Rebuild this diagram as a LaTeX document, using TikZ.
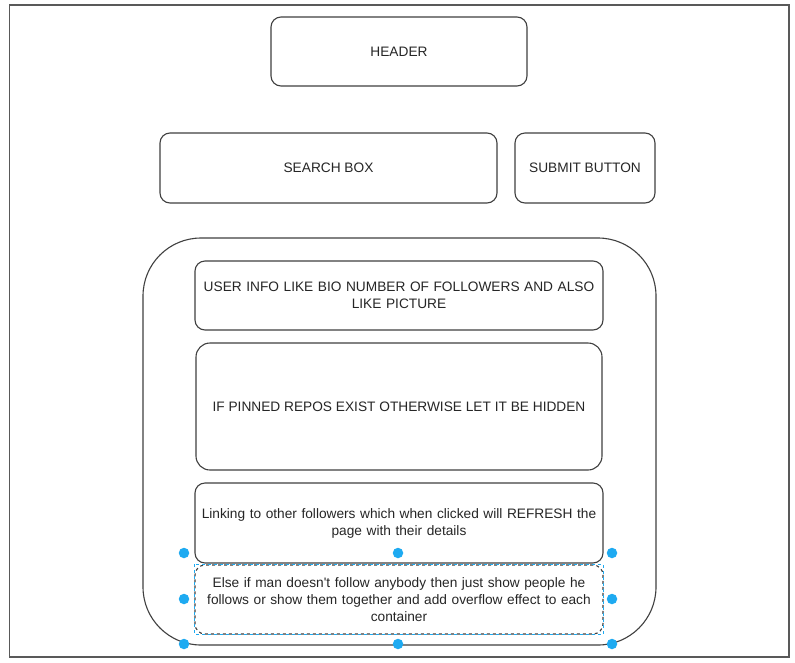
\documentclass[tikz,border=0pt]{standalone}
\usepackage{fontspec}
\setmainfont{Liberation Sans}
\definecolor{handleblue}{HTML}{1EAAF1}
\begin{document}
\begin{tikzpicture}[x=1pt,y=-1pt,
  box/.style={draw=black!75, line width=1.1pt, rounded corners=10pt, align=center, text=black!85, font=\fontsize{13.7}{17}\selectfont, inner sep=2pt},
  handle/.style={circle, fill=handleblue, draw=none, minimum size=10.5pt, inner sep=0pt}]
\useasboundingbox (0,0) rectangle (795,662);
\fill[white] (0,0) rectangle (795,662);
\draw[black!65, line width=1.4pt] (9.5,5) rectangle (789,657);
% top boxes
\node[box, minimum width=256pt, minimum height=69pt] (header) at (399,51.5) {HEADER};
\node[box, minimum width=337pt, minimum height=70pt] (search) at (328.5,168) {SEARCH BOX};
\node[box, minimum width=140pt, minimum height=70pt] (submit) at (585,168) {SUBMIT BUTTON};
% container
\node[draw=black!75, line width=1.1pt, rounded corners=58pt, minimum width=513pt, minimum height=407pt] (container) at (399.5,441.5) {};
\node[box, minimum width=406pt, minimum height=69pt, text width=404pt] (info) at (399,295.5) {USER INFO LIKE BIO NUMBER OF FOLLOWERS AND ALSO\\LIKE PICTURE};
\node[box, rounded corners=14pt, minimum width=406pt, minimum height=127pt] (pinned) at (399,406.5) {IF PINNED REPOS EXIST OTHERWISE LET IT BE HIDDEN};
\node[box, minimum width=406pt, minimum height=80pt, text width=404pt] (linking) at (399,523) {Linking to other followers which when clicked will REFRESH the\\page with their details};
\node[box, dashed, minimum width=406pt, minimum height=69pt, text width=404pt] (else) at (399,599.5) {Else if man doesn\textquotesingle t follow anybody then just show people he\\follows or show them together and add overflow effect to each\\container};
\draw[handleblue, dashed, line width=0.5pt] (else.north west) rectangle (else.south east);
% selection handles
\foreach \n/\p in {h1/{(184,553)}, h2/{(398,553)}, h3/{(612,553)}, h4/{(184,599)}, h5/{(612,599)}, h6/{(184,644)}, h7/{(398,644)}, h8/{(612,644)}}
  \node[handle] (\n) at \p {};
\end{tikzpicture}
\end{document}
